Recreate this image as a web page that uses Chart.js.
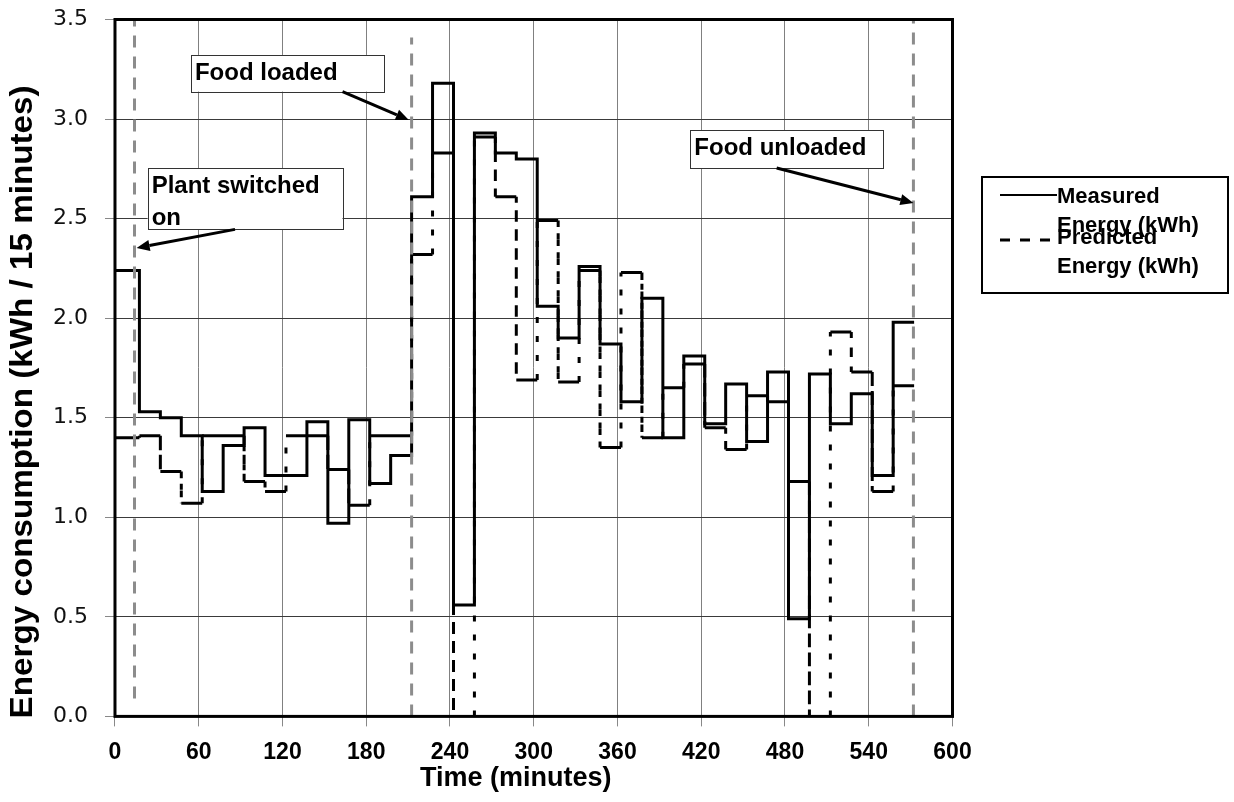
<!DOCTYPE html>
<html>
<head>
<meta charset="utf-8">
<script src="https://cdn.jsdelivr.net/npm/chart.js@4.4.0/dist/chart.umd.min.js"></script>
<style>
    html, body { margin: 0; padding: 0; background: #fff; }
    #wrap { width: 1234px; height: 802px; }
</style>
</head>
<body>
<div id="wrap"><canvas id="energyChart" width="1234" height="802"></canvas></div>
<script>
// 15-minute interval edges (minutes)
const TIME_EDGES = [0, 17.5, 32.5, 47.5, 62.5, 77.5, 92.5, 107.5, 122.5, 137.5,
    152.5, 167.5, 182.5, 197.5, 212.5, 227.5, 242.5, 257.5, 272.5, 287.5,
    302.5, 317.5, 332.5, 347.5, 362.5, 377.5, 392.5, 407.5, 422.5, 437.5,
    452.5, 467.5, 482.5, 497.5, 512.5, 527.5, 542.5, 557.5, 572.5];

// energy per interval (kWh / 15 min)
const MEASURED = [2.24, 1.53, 1.50, 1.41, 1.13, 1.36, 1.45, 1.21, 1.21, 1.48,
    0.97, 1.49, 1.17, 1.31, 2.61, 3.18, 0.56, 2.93, 2.83, 2.80,
    2.06, 1.90, 2.26, 1.87, 1.58, 2.10, 1.40, 1.81, 1.47, 1.67,
    1.38, 1.73, 0.49, 1.72, 1.47, 1.62, 1.21, 1.98];
const PREDICTED = [1.40, 1.41, 1.23, 1.07, 1.41, 1.41, 1.18, 1.13, 1.41, 1.41,
    1.24, 1.06, 1.41, 1.41, 2.32, 2.83, 0.00, 2.91, 2.61, 1.69,
    2.49, 1.68, 2.24, 1.35, 2.23, 1.40, 1.65, 1.77, 1.45, 1.34,
    1.61, 1.58, 1.18, 0.00, 1.93, 1.73, 1.13, 1.66];

// vertical event markers (minutes, from / to kWh)
const EVENT_TIMES = [14, 212.5, 572];
const EVENT_FROM = [0.09, 0, 0];
const EVENT_TO = [3.5, 3.41, 3.5];

// callouts: text lines, box [t0, t1, yTop, yBottom], arrow [t0, y0, t1, y1]
const NOTES = [
    { lines: ['Food loaded'], box: [54.4, 192.5, 3.322, 3.138], arrow: [163, 3.138, 210.5, 2.995] },
    { lines: ['Plant switched', 'on'], box: [23.4, 163, 2.752, 2.446], arrow: [86, 2.446, 15.5, 2.353] },
    { lines: ['Food unloaded'], box: [412.2, 550.3, 2.945, 2.754], arrow: [474, 2.754, 572, 2.579] }
];

const X_TITLE = 'Time (minutes)';
const Y_TITLE = 'Energy consumption (kWh / 15 minutes)';

const BOLD = '"Liberation Sans", Arial, sans-serif';

function stepPoints(values) {
    const pts = [];
    values.forEach((v, i) => {
        pts.push({ x: TIME_EDGES[i], y: v });
        pts.push({ x: TIME_EDGES[i + 1], y: v });
    });
    return pts;
}

function drawArrow(ctx, x1, y1, x2, y2) {
    const ang = Math.atan2(y2 - y1, x2 - x1);
    const head = 13, half = 5.5;
    const bx = x2 - head * Math.cos(ang), by = y2 - head * Math.sin(ang);
    ctx.beginPath();
    ctx.moveTo(x1, y1);
    ctx.lineTo(bx, by);
    ctx.lineWidth = 3;
    ctx.strokeStyle = '#000';
    ctx.stroke();
    ctx.beginPath();
    ctx.moveTo(x2, y2);
    ctx.lineTo(bx + half * Math.sin(ang), by - half * Math.cos(ang));
    ctx.lineTo(bx - half * Math.sin(ang), by + half * Math.cos(ang));
    ctx.closePath();
    ctx.fillStyle = '#000';
    ctx.fill();
}

const decorPlugin = {
    id: 'decor',
    afterDatasetsDraw(chart) {
        const { ctx, chartArea: a, scales: { x, y } } = chart;
        ctx.save();
        // plot frame
        ctx.strokeStyle = '#000';
        ctx.lineWidth = 3;
        ctx.strokeRect(a.left, a.top, a.right - a.left, a.bottom - a.top);

        // callout boxes with arrows
        NOTES.forEach(n => {
            const l = x.getPixelForValue(n.box[0]), r = x.getPixelForValue(n.box[1]);
            const t = y.getPixelForValue(n.box[2]), b = y.getPixelForValue(n.box[3]);
            ctx.fillStyle = '#fff';
            ctx.fillRect(l, t, r - l, b - t);
            ctx.lineWidth = 1;
            ctx.strokeStyle = '#333';
            ctx.strokeRect(Math.round(l) + 0.5, Math.round(t) + 0.5, Math.round(r - l), Math.round(b - t));
            ctx.fillStyle = '#000';
            ctx.font = 'bold 24px ' + BOLD;
            ctx.textAlign = 'left';
            ctx.textBaseline = 'alphabetic';
            n.lines.forEach((s, i) => ctx.fillText(s, l + 4, t + 25 + i * 31.5));
            drawArrow(ctx, x.getPixelForValue(n.arrow[0]), y.getPixelForValue(n.arrow[1]),
                x.getPixelForValue(n.arrow[2]), y.getPixelForValue(n.arrow[3]));
        });
        ctx.restore();
    },
    afterDraw(chart) {
        const { ctx, chartArea: a } = chart;
        ctx.save();
        ctx.fillStyle = '#000';

        // y axis title
        ctx.font = 'bold 32px ' + BOLD;
        ctx.translate(23, a.bottom - 314.5);
        ctx.rotate(-Math.PI / 2);
        const w = ctx.measureText(Y_TITLE).width;
        ctx.scale(633 / w, 1);
        ctx.textAlign = 'center';
        ctx.textBaseline = 'middle';
        ctx.fillText(Y_TITLE, 0, 0);
        ctx.restore();

        // x axis title
        ctx.save();
        ctx.font = 'bold 27px ' + BOLD;
        ctx.textAlign = 'center';
        ctx.textBaseline = 'middle';
        ctx.fillStyle = '#000';
        ctx.fillText(X_TITLE, (a.left + a.right) / 2 - 18, a.bottom + 62);

        // legend
        const lx = a.right + 29.5, ly = a.top + 157.5;
        ctx.lineWidth = 2;
        ctx.strokeStyle = '#000';
        ctx.strokeRect(lx, ly, 246, 116);
        ctx.font = 'bold 22px ' + BOLD;
        ctx.textAlign = 'left';
        ctx.textBaseline = 'alphabetic';
        const items = chart.data.datasets.filter(d => d.inLegend);
        items.forEach((d, i) => {
            const base = ly + 26 + i * 41;
            const words = d.label.split(' ');
            ctx.fillText(words[0], lx + 75, base);
            ctx.fillText(words.slice(1).join(' '), lx + 75, base + 28.5);
            ctx.beginPath();
            ctx.setLineDash(d.legendDash);
            ctx.lineWidth = d.legendDash.length ? 3 : 2;
            const sy = i === 0 ? base - 8 : base - 4;
            ctx.moveTo(lx + 18, sy);
            ctx.lineTo(lx + (i === 0 ? 75 : 68), sy);
            ctx.stroke();
            ctx.setLineDash([]);
        });
        ctx.restore();
    }
};

const eventSets = EVENT_TIMES.map((t, i) => ({
    label: 'event' + i,
    data: [{ x: t, y: EVENT_FROM[i] }, { x: t, y: EVENT_TO[i] }],
    borderColor: '#8c8c8c',
    borderWidth: 3,
    borderDash: [12, 9],
    pointRadius: 0,
    order: 0
}));

const ctx = document.getElementById('energyChart').getContext('2d');
new Chart(ctx, {
    type: 'line',
    data: {
        datasets: [
            {
                label: 'Measured Energy (kWh)',
                data: stepPoints(MEASURED),
                borderColor: '#000',
                borderWidth: 3,
                pointRadius: 0,
                tension: 0,
                inLegend: true,
                legendDash: [],
                order: 1
            },
            {
                label: 'Predicted Energy (kWh)',
                data: stepPoints(PREDICTED),
                borderColor: '#000',
                borderWidth: 3,
                pointRadius: 0,
                tension: 0,
                borderCapStyle: 'butt',
                // flat runs look solid, the jumps are dotted
                segment: {
                    borderDash: c => c.p0.parsed.y === c.p1.parsed.y ? [] : [6, 13]
                },
                inLegend: true,
                legendDash: [10, 10],
                order: 2
            },
            ...eventSets
        ]
    },
    options: {
        responsive: false,
        animation: false,
        devicePixelRatio: 1,
        layout: { padding: { left: 36, right: 281.5, top: 19.5, bottom: 24 } },
        plugins: {
            legend: { display: false },
            tooltip: { enabled: false }
        },
        scales: {
            x: {
                type: 'linear',
                min: 0,
                max: 600,
                border: { display: false },
                grid: { color: '#808080', lineWidth: 1, tickLength: 10, tickColor: '#888' },
                ticks: {
                    stepSize: 60,
                    padding: 12,
                    color: '#000',
                    font: { family: BOLD, size: 23, weight: 'bold' },
                    callback: v => String(v)
                }
            },
            y: {
                min: 0,
                max: 3.5,
                border: { display: false },
                grid: { color: '#3a3a3a', lineWidth: 1, tickLength: 10, tickColor: '#888' },
                ticks: {
                    stepSize: 0.5,
                    padding: 17,
                    color: '#111',
                    font: { family: '"DejaVu Sans", Verdana, sans-serif', size: 22 },
                    callback: v => v.toFixed(1)
                },
                // the label gap should not push the plot down
                afterFit(scale) {
                    scale.paddingTop = 0;
                }
            }
        }
    },
    plugins: [decorPlugin]
});
</script>
</body>
</html>
